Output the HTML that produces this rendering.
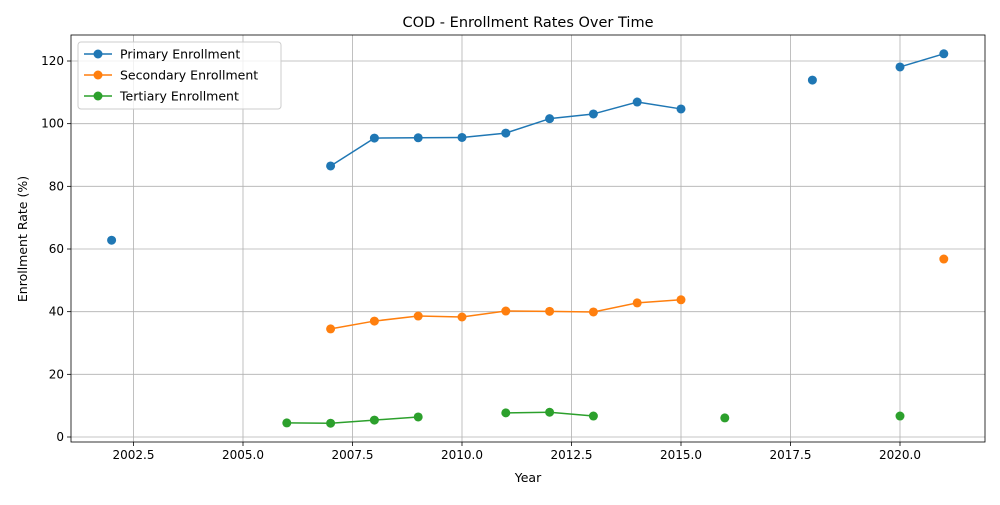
<!DOCTYPE html>
<html><head><meta charset="utf-8"><style>
body{margin:0;background:#fff;font-family:"Liberation Sans","DejaVu Sans",sans-serif;}
</style></head><body>
<svg id="chart" width="1000" height="500" xmlns="http://www.w3.org/2000/svg" font-family="DejaVu Sans, Liberation Sans, sans-serif"></svg>
<script>
const years=[2002,2003,2004,2005,2006,2007,2008,2009,2010,2011,2012,2013,2014,2015,2016,2017,2018,2019,2020,2021];
const primary=[62.8,null,null,null,null,86.5,95.4,95.5,95.6,97.0,101.6,103.1,106.9,104.7,null,null,113.9,null,118.1,122.3];
const secondary=[null,null,null,null,null,34.5,37.0,38.6,38.3,40.2,40.1,39.9,42.8,43.8,null,null,null,null,null,56.8];
const tertiary=[null,null,null,null,4.5,4.4,5.4,6.4,null,7.7,7.9,6.7,null,null,6.1,null,null,null,6.7,null];
const xTicks=[2002.5,2005,2007.5,2010,2012.5,2015,2017.5,2020];
const yTicks=[0,20,40,60,80,100,120];
const L=71,R=985,T=35,B=442;
const X=v=>462+(v-2010)*43.8;
const Y=v=>437-v*3.1333;
const svg=document.getElementById('chart');
const NS='http://www.w3.org/2000/svg';
function mk(tag,attrs,parent){const e=document.createElementNS(NS,tag);for(const k in attrs)e.setAttribute(k,attrs[k]);(parent||svg).appendChild(e);return e;}
const grid=mk('g',{});


xTicks.forEach(t=>{
 mk('line',{x1:X(t),x2:X(t),y1:T,y2:B,stroke:'#b0b0b0','stroke-width':0.8},grid);
 mk('line',{x1:X(t),x2:X(t),y1:B,y2:B+4,stroke:'#000','stroke-width':0.8});
 const tx=mk('text',{x:X(t),y:B+17,'text-anchor':'middle','font-size':12});
 tx.textContent=String(t.toFixed(1));
 
 
});
yTicks.forEach(t=>{
 mk('line',{x1:L,x2:R,y1:Y(t),y2:Y(t),stroke:'#b0b0b0','stroke-width':0.8},grid);
 mk('line',{x1:L-4,x2:L,y1:Y(t),y2:Y(t),stroke:'#000','stroke-width':0.8});
 const tx=mk('text',{x:L-7,y:Y(t)+4,'text-anchor':'end','font-size':12});
 tx.textContent=String(t);
 
 
});
const series=[[primary,'#1f77b4','primary-series'],[secondary,'#ff7f0e','secondary-series'],[tertiary,'#2ca02c','tertiary-series']];
series.forEach(([d,c,n])=>{
 const g=mk('g',{});
 
 
 for(let i=0;i<d.length-1;i++){
  if(d[i]!=null&&d[i+1]!=null)mk('line',{x1:X(years[i]),y1:Y(d[i]),x2:X(years[i+1]),y2:Y(d[i+1]),stroke:c,'stroke-width':1.5},g);
 }
 d.forEach((v,i)=>{if(v!=null){const p=mk('circle',{cx:X(years[i]),cy:Y(v),r:4.5,fill:c},g);
  
  }});
});
mk('rect',{x:L,y:T,width:R-L,height:B-T,fill:'none',stroke:'#000','stroke-width':0.8});
const ti=mk('text',{x:528,y:27,'text-anchor':'middle','font-size':14.5});ti.textContent='COD - Enrollment Rates Over Time';


const xl=mk('text',{x:528,y:482,'text-anchor':'middle','font-size':12.5});xl.textContent='Year';


const yl=mk('text',{x:27,y:239,'text-anchor':'middle','font-size':12.5,transform:'rotate(-90 27 239)'});yl.textContent='Enrollment Rate (%)';


const lg=mk('g',{});


mk('rect',{x:78,y:42,width:203,height:67,rx:3,fill:'#fff','fill-opacity':0.8,stroke:'#ccc'},lg);
['Primary Enrollment','Secondary Enrollment','Tertiary Enrollment'].forEach((s,i)=>{
 const y=54+i*21,c=series[i][1];
 mk('line',{x1:84,x2:112,y1:y,y2:y,stroke:c,'stroke-width':1.5},lg);
 mk('circle',{cx:98,cy:y,r:4.5,fill:c},lg);
 const t=mk('text',{x:120,y:y+4.5,'font-size':12.5},lg);t.textContent=s;
 
 
});
</script>
</body></html>
